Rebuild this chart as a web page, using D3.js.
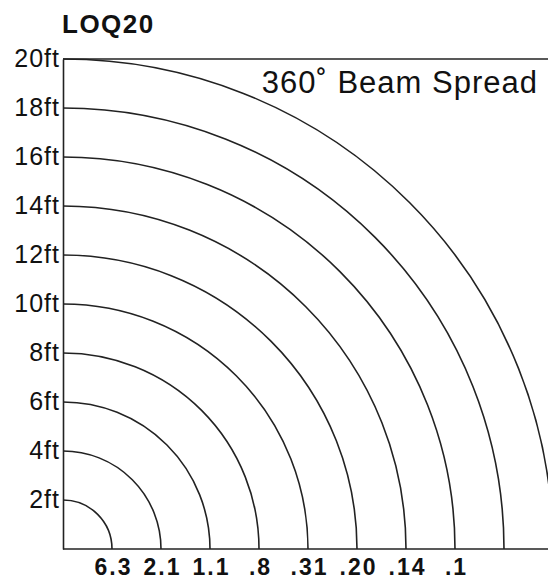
<!DOCTYPE html>
<html>
<head>
<meta charset="utf-8">
<script src="https://cdn.jsdelivr.net/npm/d3@7"></script>
<style>
  html, body { margin: 0; padding: 0; background: #fff; }
  svg { display: block; }
</style>
</head>
<body>
<div id="chart"></div>
<script>
// distances (ft) of each ring
var distances = [2, 4, 6, 8, 10, 12, 14, 16, 18, 20];
// footcandle readings shown under the rings
var fcDistances = [2, 4, 6, 8, 10, 12, 14, 16];
var fcLabels = ["6.3", "2.1", "1.1", ".8", ".31", ".20", ".14", ".1"];
var yTickValues = [2, 4, 6, 8, 10, 12, 14, 16, 18, 20];

var attrs = {
  svgWidth: 548,
  svgHeight: 581,
  originX: 63,
  originY: 549,
  maxFt: 20,
  radiusPx: 490,
  lineColor: '#222',
  strokeWidth: 1.6,
  font: '"Liberation Sans", Arial, Helvetica, sans-serif'
};

var svg = d3.select('#chart').append('svg')
  .attr('width', attrs.svgWidth)
  .attr('height', attrs.svgHeight)
  .attr('font-family', attrs.font);

// scales
var r = d3.scaleLinear().domain([0, attrs.maxFt]).range([0, attrs.radiusPx]);
var x = d3.scaleLinear().domain([0, attrs.maxFt]).range([attrs.originX, attrs.originX + attrs.radiusPx]);
var y = d3.scaleLinear().domain([0, attrs.maxFt]).range([attrs.originY, attrs.originY - attrs.radiusPx]);

svg.append('defs').append('clipPath').attr('id', 'plot-clip')
  .append('rect')
  .attr('x', 0).attr('y', 0)
  .attr('width', attrs.svgWidth).attr('height', attrs.originY + 1);

// rings
svg.append('g').attr('clip-path', 'url(#plot-clip)')
  .selectAll('path.ring')
  .data(distances)
  .enter().append('path')
  .attr('class', 'ring')
  .attr('fill', 'none')
  .attr('stroke', attrs.lineColor)
  .attr('stroke-width', attrs.strokeWidth)
  .attr('d', function (d) {
    var p = d3.path();
    p.moveTo(attrs.originX, attrs.originY - r(d));
    p.arc(attrs.originX, attrs.originY, r(d), -Math.PI / 2, 0);
    return p.toString();
  });

// top frame line
svg.append('line')
  .attr('x1', x(0)).attr('x2', attrs.svgWidth)
  .attr('y1', y(attrs.maxFt)).attr('y2', y(attrs.maxFt))
  .attr('stroke', attrs.lineColor)
  .attr('stroke-width', attrs.strokeWidth);

// y axis (distance)
var yAxis = svg.append('g')
  .attr('transform', 'translate(' + attrs.originX + ',0)')
  .call(d3.axisLeft(y).tickValues(yTickValues).tickSize(0).tickSizeOuter(0).tickPadding(3)
    .tickFormat(function (d) { return d + 'ft'; }));
yAxis.select('.domain').attr('stroke', attrs.lineColor).attr('stroke-width', attrs.strokeWidth);
yAxis.selectAll('text')
  .attr('font-family', attrs.font)
  .attr('font-size', 25)
  .attr('letter-spacing', 1)
  .attr('fill', '#111')
  .attr('dy', '0.28em');

// x axis (footcandles)
var xAxis = svg.append('g')
  .attr('transform', 'translate(0,' + attrs.originY + ')')
  .call(d3.axisBottom(x).tickValues(fcDistances).tickSize(0).tickSizeOuter(0).tickPadding(10)
    .tickFormat(function (d, i) { return fcLabels[i]; }));
xAxis.select('.domain').remove();
xAxis.selectAll('text')
  .attr('font-family', attrs.font)
  .attr('font-size', 23)
  .attr('font-weight', 'bold')
  .attr('letter-spacing', 2)
  .attr('dx', 1)
  .attr('fill', '#111');

// bottom baseline
svg.append('line')
  .attr('x1', x(0)).attr('x2', attrs.svgWidth)
  .attr('y1', y(0)).attr('y2', y(0))
  .attr('stroke', attrs.lineColor)
  .attr('stroke-width', attrs.strokeWidth);

// title
svg.append('text')
  .attr('x', 62).attr('y', 33)
  .attr('font-size', 26)
  .attr('font-weight', 'bold')
  .attr('letter-spacing', 1.5)
  .attr('fill', '#111')
  .text('LOQ20');

// beam spread note
svg.append('text')
  .attr('x', 538).attr('y', 93)
  .attr('text-anchor', 'end')
  .attr('font-size', 31)
  .attr('letter-spacing', 1)
  .attr('fill', '#111')
  .text('360\u02DA Beam Spread');
</script>
</body>
</html>
